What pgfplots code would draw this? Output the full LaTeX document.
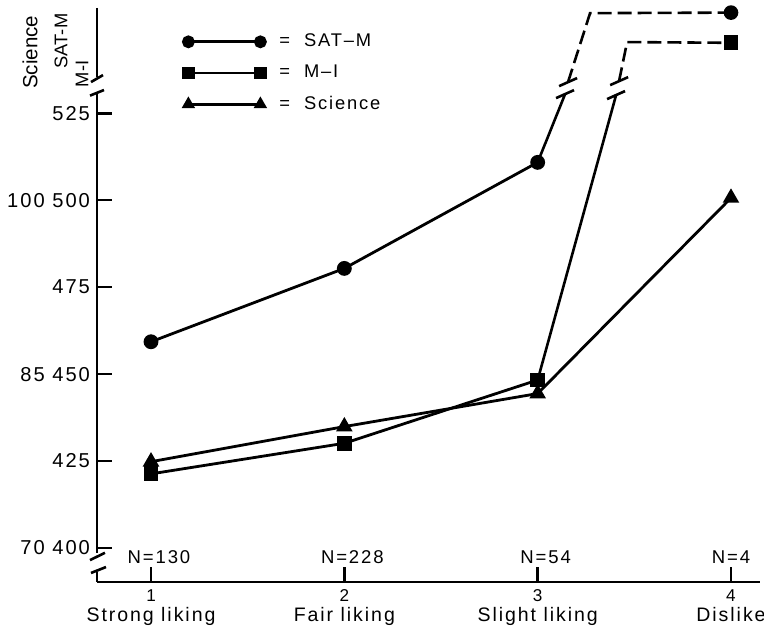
\documentclass[border=0pt]{standalone}
\usepackage{fontspec}
\setmainfont{Liberation Sans}[LetterSpace=10]
\usepackage{pgfplots}
\pgfplotsset{compat=1.18}
\pgfplotsset{
  brk/.style={black, line width=1.3bp, forget plot},
  ser/.style={black, line width=1.4bp, mark size=3bp},
}
\begin{document}
\begin{tikzpicture}
\useasboundingbox (-48.5bp,-23.5bp) rectangle (333.5bp,291bp);
\begin{axis}[
  at={(0,0)}, anchor=south west,
  scale only axis, width=331.5bp, height=287bp,
  xmin=0.7206, xmax=4.15, ymin=390.2, ymax=555.3,
  clip=false,
  axis x line=bottom, axis y line=left,
  x axis line style={-, line width=1.3bp},
  y axis line style={draw=none},
  tick align=inside,
  major tick length=7.5bp,
  tick style={line width=1.2bp, black},
  xtick={1,2,3,4},
  xticklabels={
    {{\fontsize{8.6}{8}\selectfont 1}\\Strong liking},
    {{\fontsize{8.6}{8}\selectfont 2}\\Fair liking},
    {{\fontsize{8.6}{8}\selectfont 3}\\Slight liking},
    {{\fontsize{8.6}{8}\selectfont 4}\\Dislike}},
  xticklabel style={align=center, anchor=north, inner sep=0pt, yshift=-3.5bp,
    font=\fontsize{9.8}{10.2}\selectfont},
  ytick={400,425,450,475,500,525},
  yticklabels={70 400,425,85 450,475,100 500,525},
  yticklabel style={font=\fontsize{10.1}{12}\selectfont},
  legend image code/.code={\draw[#1] plot coordinates {(0bp,0bp) (36bp,0bp)};},
  legend image post style={mark size=2.5bp},
  legend style={draw=none, fill=none, at={(0.1297,0.959)}, anchor=north west,
    inner sep=0pt, font=\fontsize{9.2}{10}\selectfont, row sep=5.7bp,
    nodes={inner sep=1bp}, /tikz/every odd column/.append style={column sep=6bp}},
  legend cell align=left,
]
% data series
\addplot[ser, mark=*] coordinates {(1,459.3) (2,480.4) (3,510.9)};
\addlegendentry{=\hspace{7bp}SAT--M}
\addplot[ser, mark=square*] coordinates {(1,421.3) (2,430.1) (3,448.3)};
\addlegendentry{=\hspace{7bp}M--I}
\addplot[ser, mark=triangle*, mark size=3.4bp] table[x=x, y expr={400+(\thisrow{s}-70)*10/3}] {
x s
1 77.44
2 80.47
3 83.32
4 100.2
};
\addlegendentry{=\hspace{7bp}Science}
% SAT-M extension beyond the scale
\addplot[brk] coordinates {(3,510.9) (3.1418,530.53)};
\addplot[brk] coordinates {(3.095,529.38) (3.188,531.68)};
\addplot[brk] coordinates {(3.111,532.83) (3.204,535.14)};
\addplot[brk, dash pattern=on 7bp off 3bp, mark=*, mark size=3bp, mark options={solid}, mark indices={3}]
  coordinates {(3.157,533.98) (3.271,553.82) (4,553.97)};
% M-I extension beyond the scale
\addplot[brk] coordinates {(3,448.3) (3.4056,530.25)};
\addplot[brk] coordinates {(3.359,529.10) (3.452,531.40)};
\addplot[brk] coordinates {(3.375,533.12) (3.468,535.42)};
\addplot[brk, dash pattern=on 7bp off 3bp, mark=square*, mark size=3bp, mark options={solid}, mark indices={3}]
  coordinates {(3.421,534.27) (3.4625,545.49) (4,545.29)};
% broken y axis line
\addplot[brk] coordinates {(0.7206,555.3) (0.7206,535.4)};
\addplot[brk] coordinates {(0.7206,530.8) (0.7206,398.6)};
\addplot[brk] coordinates {(0.7206,393.1) (0.7206,390.2)};
\addplot[brk] coordinates {(0.6896,534.0) (0.7517,536.0)};
\addplot[brk] coordinates {(0.6844,530.1) (0.7569,531.7)};
\addplot[brk] coordinates {(0.6844,396.5) (0.7620,398.6)};
\addplot[brk] coordinates {(0.6896,392.8) (0.7672,394.5)};
% group sizes
\node[anchor=base, xshift=4bp, yshift=9.5bp, font=\fontsize{9.3}{11}\selectfont] at (axis cs:1,390.2) {N=130};
\node[anchor=base, xshift=4bp, yshift=9.5bp, font=\fontsize{9.3}{11}\selectfont] at (axis cs:2,390.2) {N=228};
\node[anchor=base, xshift=4bp, yshift=9.5bp, font=\fontsize{9.3}{11}\selectfont] at (axis cs:3,390.2) {N=54};
\node[anchor=base, yshift=9.5bp, font=\fontsize{9.3}{11}\selectfont] at (axis cs:4,390.2) {N=4};
% axis titles
\node[rotate=90, font=\fontsize{10.3}{12}\selectfont\addfontfeatures{LetterSpace=0}] at (rel axis cs:-0.101,0.923) {Science};
\node[rotate=90, font=\fontsize{9.2}{12}\selectfont\addfontfeatures{LetterSpace=0}] at (rel axis cs:-0.0543,0.9425) {SAT-M};
\node[rotate=90, font=\fontsize{9.2}{12}\selectfont\addfontfeatures{LetterSpace=0}] at (rel axis cs:-0.0226,0.885) {M-I};
\end{axis}
\end{tikzpicture}
\end{document}
